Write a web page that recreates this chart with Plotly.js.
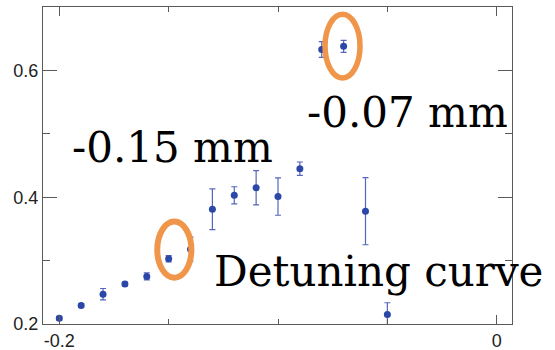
<!DOCTYPE html>
<html>
<head>
<meta charset="utf-8">
<script src="https://cdn.plot.ly/plotly-3.0.1.min.js"></script>
<style>html,body{margin:0;padding:0;background:#fff;}#chart{width:555px;height:350px;}</style>
</head>
<body>
<div id="chart"></div>
<script>
// Detuning data
const offsets = [-0.20, -0.19, -0.18, -0.17, -0.16, -0.15, -0.14, -0.13, -0.12, -0.11, -0.10, -0.09, -0.08, -0.07, -0.06, -0.05];
const values  = [0.209, 0.229, 0.247, 0.263, 0.275, 0.303, 0.318, 0.381, 0.403, 0.415, 0.401, 0.445, 0.633, 0.638, 0.378, 0.215];
const errors  = [0.003, 0.003, 0.009, 0.003, 0.0055, 0.005, 0.019, 0.032, 0.0135, 0.027, 0.0295, 0.0105, 0.0125, 0.0095, 0.053, 0.0185];
const xTickVals = [-0.2, 0];
const xTickText = ['-0.2', '0'];
const yTickVals = [0.2, 0.4, 0.6];
const yTickText = ['0.2', '0.4', '0.6'];
const labels = ['-0.15 mm', '-0.07 mm', 'Detuning curve'];

const trace = {
  x: offsets, y: values, type: 'scatter', mode: 'markers',
  marker: {color: '#2b47a8', size: 7},
  error_y: {type: 'data', array: errors, visible: true, color: '#5566bb', thickness: 1.2, width: 3},
  cliponaxis: true, hoverinfo: 'none'
};

const serif = {family: 'DejaVu Serif', size: 42, color: '#000'};
const orange = '#f0964a';

const layout = {
  width: 555, height: 350,
  margin: {l: 43, r: 43, t: 7, b: 26, pad: 0},
  paper_bgcolor: '#fff', plot_bgcolor: '#fff',
  showlegend: false,
  xaxis: {
    range: [-0.20745, 0.00699], showgrid: false, zeroline: false,
    showline: true, linecolor: '#5a5a5a', linewidth: 1, mirror: 'ticks',
    ticks: 'inside', ticklen: 9, tickcolor: '#5a5a5a', tickwidth: 1,
    tickmode: 'array', tickvals: xTickVals, ticktext: xTickText,
    tickfont: {family: 'Liberation Sans, Arial, sans-serif', size: 18, color: '#222'},
    minor: {dtick: 0.05, tick0: -0.2, ticks: 'inside', ticklen: 5, tickcolor: '#5a5a5a', showgrid: false}
  },
  yaxis: {
    range: [0.2, 0.7], showgrid: false, zeroline: false,
    showline: true, linecolor: '#5a5a5a', linewidth: 1, mirror: 'ticks',
    ticks: 'inside', ticklen: 14, tickcolor: '#5a5a5a', tickwidth: 1,
    tickmode: 'array', tickvals: yTickVals, ticktext: yTickText,
    tickfont: {family: 'Liberation Sans, Arial, sans-serif', size: 18, color: '#222'},
    minor: {dtick: 0.1, tick0: 0.2, ticks: 'inside', ticklen: 7, tickcolor: '#5a5a5a', showgrid: false}
  },
  shapes: [
    {type: 'circle', xref: 'x', yref: 'y', x0: -0.1552, x1: -0.1396, y0: 0.273, y1: 0.3615,
     line: {color: orange, width: 6}, layer: 'above'},
    {type: 'circle', xref: 'x', yref: 'y', x0: -0.0785, x1: -0.0625, y0: 0.588, y1: 0.6886,
     line: {color: orange, width: 5.5}, layer: 'above'}
  ],
  annotations: [
    {text: labels[0], xref: 'paper', yref: 'paper', x: 0.0576, y: 0.5568, xanchor: 'left', yanchor: 'middle', showarrow: false, font: serif},
    {text: labels[1], xref: 'paper', yref: 'paper', x: 0.5586, y: 0.6672, xanchor: 'left', yanchor: 'middle', showarrow: false, font: serif},
    {text: labels[2], xref: 'paper', yref: 'paper', x: 0.3603, y: 0.165, xanchor: 'left', yanchor: 'middle', showarrow: false, font: serif}
  ]
};

Plotly.newPlot('chart', [trace], layout, {staticPlot: true, displayModeBar: false});
</script>
</body>
</html>
